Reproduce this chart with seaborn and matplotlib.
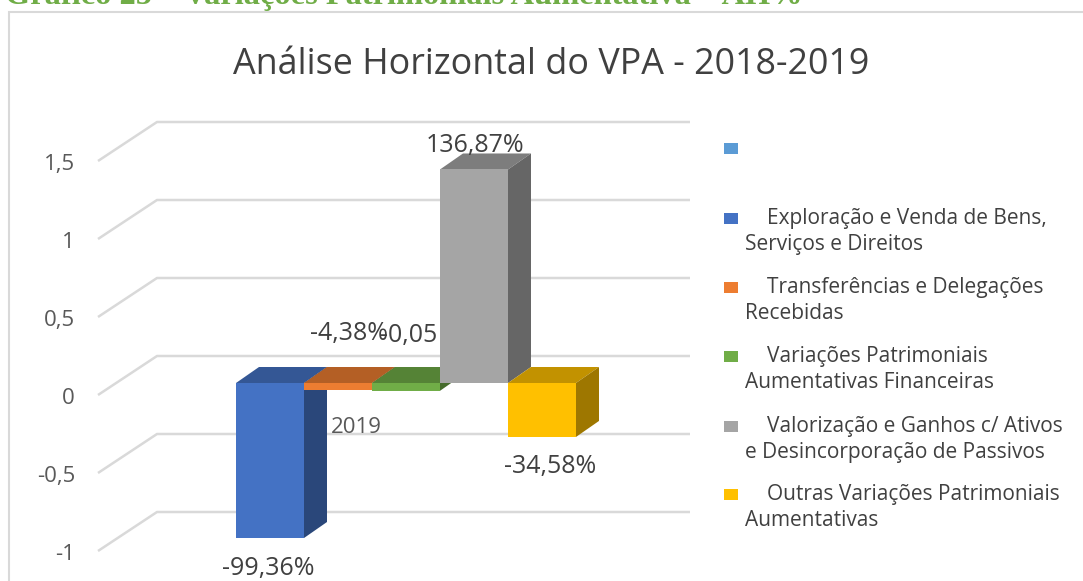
import matplotlib
matplotlib.use("Agg")
import matplotlib.pyplot as plt
from matplotlib.patches import Polygon, Rectangle
from matplotlib.lines import Line2D
import seaborn as sns

# ---- data -------------------------------------------------------------
categories = [
    "Exploração e Venda de Bens,\nServiços e Direitos",
    "Transferências e Delegações\nRecebidas",
    "Variações Patrimoniais\nAumentativas Financeiras",
    "Valorização e Ganhos c/ Ativos\ne Desincorporação de Passivos",
    "Outras Variações Patrimoniais\nAumentativas",
]
values = [-0.9936, -0.0438, -0.05, 1.3687, -0.3458]
value_labels = ["-99,36%", "-4,38%", "-0,05", "136,87%", "-34,58%"]
colors = ["#4472C4", "#ED7D31", "#70AD47", "#A5A5A5", "#FFC000"]
yticks = [-1, -0.5, 0, 0.5, 1, 1.5]
ytick_labels = ["-1", "-0,5", "0", "0,5", "1", "1,5"]
category_label = "2019"
title = "Análise Horizontal do VPA - 2018-2019"
caption = "Gráfico 25 – Variações Patrimoniais Aumentativa – AH%"

# ---- layout (pixels) --------------------------------------------------
W, H = 1083, 581
DPI = 100
sns.set_theme(style="white")
plt.rcParams["font.family"] = ["Open Sans", "DejaVu Sans"]

fig = plt.figure(figsize=(W / DPI, H / DPI), dpi=DPI)
fig.patch.set_facecolor("white")

AX_L, AX_R, AX_T, AX_B = 60, 720, 100, 575
ax = fig.add_axes([AX_L / W, 1 - AX_B / H, (AX_R - AX_L) / W, (AX_B - AX_T) / H])

PX_X, PX_Y = 68.0, 156.0       # pixels per category / per unit value
X0_PX, Y0_PX = 270.0, 383.0    # pixel position of category 0 / value 0

# 3D depth offsets (in data units)
BAR_DX, BAR_DY = 23 / PX_X, 16 / PX_Y
WALL_DY = 27 / PX_Y
WALL_X0, WALL_X1 = (157 - X0_PX) / PX_X, (690 - X0_PX) / PX_X
FRONT_DY = -12 / PX_Y
FRONT_X = (98 - X0_PX) / PX_X


def shade(c, f):
    r, g, b = matplotlib.colors.to_rgb(c)
    return (r * f, g * f, b * f)


# back-wall gridlines with the floor-to-wall diagonal
for t in yticks:
    ax.add_line(Line2D([FRONT_X, WALL_X0, WALL_X1],
                       [t + FRONT_DY, t + WALL_DY, t + WALL_DY],
                       color="#D9D9D9", lw=1.8, zorder=1, clip_on=False,
                       solid_capstyle="butt"))

# front faces
sns.barplot(x=list(range(len(values))), y=values, hue=list(range(len(values))),
            palette=colors, width=1.0, saturation=1, legend=False,
            linewidth=0, ax=ax, zorder=4)

# top and side faces
for i, (v, c) in enumerate(zip(values, colors)):
    top, bot = max(v, 0), min(v, 0)
    x0, x1 = i - 0.5, i + 0.5
    ax.add_patch(Polygon([(x0, top), (x1, top), (x1 + BAR_DX, top + BAR_DY),
                          (x0 + BAR_DX, top + BAR_DY)],
                         closed=True, facecolor=shade(c, 0.76), lw=0, zorder=3))
    ax.add_patch(Polygon([(x1, bot), (x1, top), (x1 + BAR_DX, top + BAR_DY),
                          (x1 + BAR_DX, bot + BAR_DY)],
                         closed=True, facecolor=shade(c, 0.62), lw=0, zorder=3))

ax.set_xlim((AX_L - X0_PX) / PX_X, (AX_R - X0_PX) / PX_X)
ax.set_ylim((Y0_PX - AX_B) / PX_Y, (Y0_PX - AX_T) / PX_Y)
ax.axis("off")

# value axis labels at the front edge of the floor (baseline below gridline end)
tick_x = (75 - X0_PX) / PX_X
TICK_BASE_DY = -21 / PX_Y
for t, lab in zip(yticks, ytick_labels):
    ax.text(tick_x, t + TICK_BASE_DY, lab, ha="right", va="baseline",
            fontsize=16, color="#595959", clip_on=False)

# category label
ax.text((356 - X0_PX) / PX_X, (Y0_PX - 433) / PX_Y, category_label,
        ha="center", va="baseline", fontsize=16, color="#595959", zorder=6)

# data labels: baseline offsets in pixels from the bar end
label_offsets = [(-2, -37), (11, 50), (3, 49), (1, 17), (8, -36)]
for i, (v, lab, (ox, oy)) in enumerate(zip(values, value_labels, label_offsets)):
    ax.annotate(lab, (i, v), xytext=(ox * 0.72, oy * 0.72),
                textcoords="offset points", ha="center", va="baseline",
                fontsize=18, color="#404040", zorder=6, annotation_clip=False)

# chart title
fig.text(551.5 / W, 1 - 74 / H, title, ha="center", va="baseline",
         fontsize=25.8, color="#404040")

# legend
legend_colors = ["#5B9BD5"] + colors
legend_labels = [""] + categories
leg_base = [154, 224, 293, 362, 432, 500]
for yy, col, lab in zip(leg_base, legend_colors, legend_labels):
    fig.patches.append(Rectangle((724 / W, 1 - yy / H), 14 / W, 11 / H,
                                 transform=fig.transFigure, facecolor=col,
                                 lw=0))
    if lab:
        first, second = lab.split("\n")
        fig.text(767 / W, 1 - yy / H, first, ha="left", va="baseline",
                 fontsize=15, color="#404040")
        fig.text(745 / W, 1 - (yy + 26) / H, second, ha="left", va="baseline",
                 fontsize=15, color="#404040")

# chart-area border
fig.patches.append(Rectangle((9 / W, -0.05), 1.1, 1 - 12.5 / H + 0.05,
                             transform=fig.transFigure, facecolor="none",
                             edgecolor="#D9D9D9", lw=1.5))

# figure caption above the chart area
fig.text(5 / W, 1 - 4 / H, caption, ha="left", va="baseline",
         fontsize=23.3, fontweight="bold", color="#70AD47",
         family=["Liberation Serif", "DejaVu Serif"])

fig.savefig("out.png", dpi=DPI)
